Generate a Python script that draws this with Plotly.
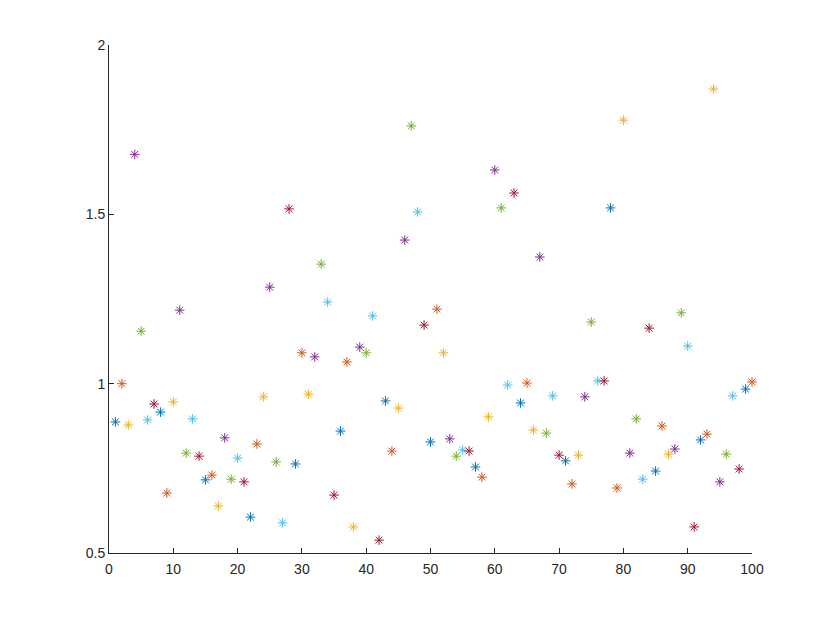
import plotly.graph_objects as go

x_vals = list(range(1, 101))
y_vals = [
    0.887, 1.000, 0.878, 1.677, 1.155, 0.893, 0.940, 0.916, 0.677, 0.946,
    1.217, 0.795, 0.896, 0.786, 0.716, 0.730, 0.639, 0.840, 0.718, 0.780,
    0.710, 0.606, 0.822, 0.961, 1.285, 0.769, 0.589, 1.516, 0.763, 1.091,
    0.969, 1.079, 1.353, 1.241, 0.671, 0.860, 1.064, 0.577, 1.108, 1.091,
    1.200, 0.538, 0.949, 0.801, 0.928, 1.424, 1.761, 1.507, 1.173, 0.828,
    1.220, 1.091, 0.837, 0.786, 0.804, 0.801, 0.754, 0.724, 0.902, 1.631,
    1.519, 0.996, 1.563, 0.943, 1.002, 0.863, 1.374, 0.854, 0.964, 0.789,
    0.772, 0.704, 0.789, 0.961, 1.182, 1.008, 1.008, 1.519, 0.692, 1.778,
    0.795, 0.896, 0.718, 1.164, 0.742, 0.875, 0.792, 0.807, 1.209, 1.111,
    0.577, 0.834, 0.851, 1.870, 0.710, 0.792, 0.964, 0.748, 0.984, 1.005,
]
palette = ["#0072BD", "#D95319", "#EDB120", "#7E2F8E", "#77AC30", "#4DBEEE", "#A2142F"]
colors = [palette[i % 7] for i in range(len(x_vals))]

x_ticks = [0, 10, 20, 30, 40, 50, 60, 70, 80, 90, 100]
y_ticks = [0.5, 1, 1.5, 2]
y_tick_text = ["0.5", "1", "1.5", "2"]

fig = go.Figure()
fig.add_trace(go.Scatter(
    x=x_vals, y=y_vals, mode="markers",
    marker=dict(symbol="asterisk-open", size=8, color=colors,
                line=dict(color=colors, width=1)),
    showlegend=False,
    cliponaxis=False,
))

axis_color = "#262626"
fig.update_layout(
    width=830, height=623,
    margin=dict(l=101, r=86, t=37, b=78),
    paper_bgcolor="white", plot_bgcolor="white",
    font=dict(family="Liberation Sans, Arial, sans-serif", size=14, color=axis_color),
    xaxis=dict(range=[0, 100], tickvals=x_ticks, ticks="inside", ticklen=5,
               tickcolor=axis_color, showline=True, linecolor=axis_color, linewidth=1,
               showgrid=False, zeroline=False, mirror=False, ticklabelstandoff=3),
    yaxis=dict(range=[0.5, 2], tickvals=y_ticks, ticktext=y_tick_text, ticks="inside",
               ticklen=5, tickcolor=axis_color, showline=True, linecolor=axis_color,
               linewidth=1, showgrid=False, zeroline=False, mirror=False),
)

fig.write_html("out.html")
